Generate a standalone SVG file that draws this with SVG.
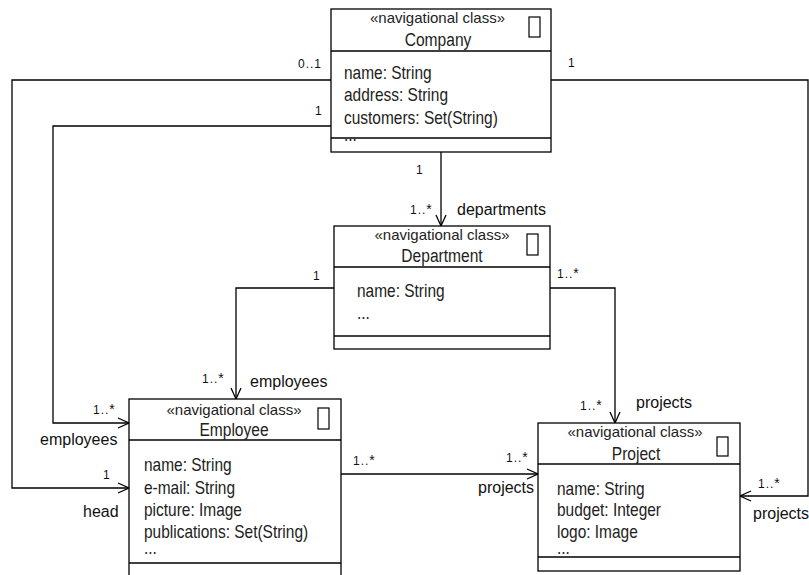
<svg xmlns="http://www.w3.org/2000/svg" width="809" height="575" viewBox="0 0 809 575">
  <defs>
    <style>
      .box { fill: #fff; stroke: #000; stroke-width: 1.3; }
      .sep { stroke: #000; stroke-width: 1.3; }
      .icon { fill: #fff; stroke: #000; stroke-width: 1.2; }
      .edge { fill: none; stroke: #000; stroke-width: 1.3; }
      text { font-family: "Liberation Sans", Arial, sans-serif; fill: #222; }
      .stereo { font-size: 15px; text-anchor: middle; }
      .cname { font-size: 19px; text-anchor: middle; }
      .attr { font-size: 18px; }
      .mult { font-size: 12px; letter-spacing: 1px; fill: #111; }
      .star { font-size: 14px; }
      .role { font-size: 16px; fill: #111; }
    </style>
    <marker id="open" markerWidth="14" markerHeight="12" refX="11" refY="5" orient="auto" markerUnits="userSpaceOnUse" overflow="visible">
      <path d="M0,0 L11,5 L0,10" fill="none" stroke="#000" stroke-width="1.3"/>
    </marker>
  </defs>

  <rect width="809" height="575" fill="#fff"/>

  <!-- associations -->
  <g id="connectors">
    <path class="edge" d="M331,80 H12 V488 H129" marker-end="url(#open)"/>
    <path class="edge" d="M331,126 H53 V423 H129" marker-end="url(#open)"/>
    <path class="edge" d="M551,80 H808 V496 H740" marker-end="url(#open)"/>
    <path class="edge" d="M441,152 V226" marker-end="url(#open)"/>
    <path class="edge" d="M334,288 H236 V399" marker-end="url(#open)"/>
    <path class="edge" d="M550,288 H615 V423" marker-end="url(#open)"/>
    <path class="edge" d="M341,474 H538" marker-end="url(#open)"/>

    <text class="mult" x="298" y="68">0..1</text>
    <text class="mult" x="315" y="115">1</text>
    <text class="mult" x="568" y="67">1</text>
    <text class="mult" x="416" y="174">1</text>
    <text class="mult" x="410" y="214">1..<tspan class="star">*</tspan></text>
    <text class="role" x="457" y="215">departments</text>
    <text class="mult" x="313" y="280">1</text>
    <text class="mult" x="557" y="278">1..<tspan class="star">*</tspan></text>
    <text class="mult" x="202" y="383">1..<tspan class="star">*</tspan></text>
    <text class="role" x="250" y="387">employees</text>
    <text class="mult" x="93" y="414">1..<tspan class="star">*</tspan></text>
    <text class="role" x="40" y="445">employees</text>
    <text class="mult" x="103" y="479">1</text>
    <text class="role" x="83" y="517">head</text>
    <text class="mult" x="353" y="465">1..<tspan class="star">*</tspan></text>
    <text class="mult" x="506" y="462">1..<tspan class="star">*</tspan></text>
    <text class="role" x="478" y="493">projects</text>
    <text class="mult" x="580" y="410">1..<tspan class="star">*</tspan></text>
    <text class="role" x="636" y="408">projects</text>
    <text class="mult" x="758" y="488">1..<tspan class="star">*</tspan></text>
    <text class="role" x="753" y="519">projects</text>
  </g>

  <!-- Company -->
  <g id="company">
    <rect class="box" x="331" y="9" width="220" height="143"/>
    <line class="sep" x1="331" y1="51" x2="551" y2="51"/>
    <line class="sep" x1="331" y1="138" x2="551" y2="138"/>
    <rect class="icon" x="529" y="17" width="11" height="20"/>
    <text class="stereo" x="437.5" y="23">«navigational class»</text>
    <text class="cname" transform="translate(438,45.5) scale(0.82,1)">Company</text>
    <g transform="translate(344,0) scale(0.86,1)">
      <text class="attr" x="0" y="79">name: String</text>
      <text class="attr" x="0" y="101.5">address: String</text>
      <text class="attr" x="0" y="124">customers: Set(String)</text>
      <text class="attr" x="0" y="141">...</text>
    </g>
  </g>

  <!-- Department -->
  <g id="department">
    <rect class="box" x="334" y="226" width="216" height="123"/>
    <line class="sep" x1="334" y1="267" x2="550" y2="267"/>
    <line class="sep" x1="334" y1="336" x2="550" y2="336"/>
    <rect class="icon" x="527" y="234" width="11" height="21"/>
    <text class="stereo" x="442" y="240">«navigational class»</text>
    <text class="cname" transform="translate(442,261.5) scale(0.82,1)">Department</text>
    <g transform="translate(357,0) scale(0.86,1)">
      <text class="attr" x="0" y="297">name: String</text>
      <text class="attr" x="0" y="319.5">...</text>
    </g>
  </g>

  <!-- Employee -->
  <g id="employee">
    <rect class="box" x="129" y="399" width="212" height="190"/>
    <line class="sep" x1="129" y1="440" x2="341" y2="440"/>
    <line class="sep" x1="129" y1="563" x2="341" y2="563"/>
    <rect class="icon" x="318" y="408" width="11" height="21"/>
    <text class="stereo" x="234" y="415">«navigational class»</text>
    <text class="cname" transform="translate(234,436) scale(0.82,1)">Employee</text>
    <g transform="translate(144,0) scale(0.86,1)">
      <text class="attr" x="0" y="471.5">name: String</text>
      <text class="attr" x="0" y="493.7">e-mail: String</text>
      <text class="attr" x="0" y="516">picture: Image</text>
      <text class="attr" x="0" y="538">publications: Set(String)</text>
      <text class="attr" x="0" y="554">...</text>
    </g>
  </g>

  <!-- Project -->
  <g id="project">
    <rect class="box" x="538" y="423" width="202" height="148"/>
    <line class="sep" x1="538" y1="464" x2="740" y2="464"/>
    <line class="sep" x1="538" y1="557" x2="740" y2="557"/>
    <rect class="icon" x="717" y="437" width="11" height="19"/>
    <text class="stereo" x="635" y="437">«navigational class»</text>
    <text class="cname" transform="translate(636,460) scale(0.82,1)">Project</text>
    <g transform="translate(557,0) scale(0.86,1)">
      <text class="attr" x="0" y="495">name: String</text>
      <text class="attr" x="0" y="516.5">budget: Integer</text>
      <text class="attr" x="0" y="538">logo: Image</text>
      <text class="attr" x="0" y="554.5">...</text>
    </g>
  </g>
</svg>
